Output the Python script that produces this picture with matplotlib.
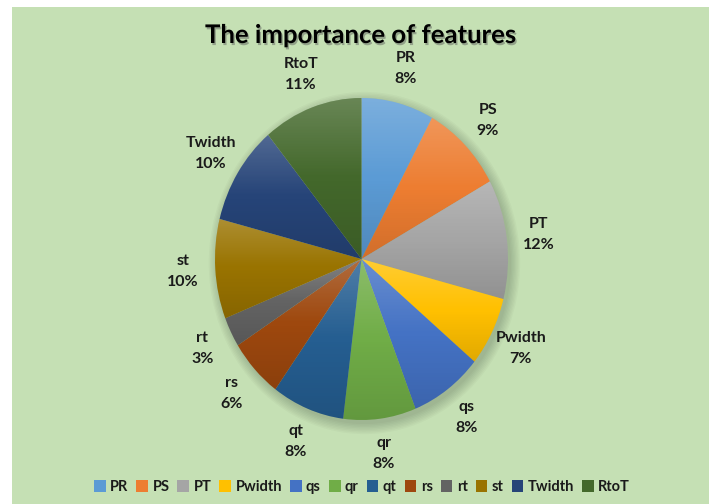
import numpy as np
import matplotlib
matplotlib.use("Agg")
import matplotlib.pyplot as plt
from matplotlib.patches import Rectangle, Ellipse
import matplotlib.patheffects as pe

plt.rcParams['font.family'] = ['Lato', 'DejaVu Sans']

# feature importances in percent, clockwise from 12 o'clock
features = ["PR", "PS", "PT", "Pwidth", "qs", "qr", "qt", "rs", "rt", "st", "Twidth", "RtoT"]
importance = [8, 9, 12, 7, 8, 8, 8, 6, 3, 10, 10, 11]
colors = ["#5B9BD5", "#ED7D31", "#A5A5A5", "#FFC000", "#4472C4", "#70AD47",
          "#255E91", "#9E480E", "#636363", "#997300", "#264478", "#43682B"]

W, H = 712, 504
fig = plt.figure(figsize=(W / 100, H / 100), dpi=100, facecolor="white")

# green chart area with a thin white margin left, top and right
fig.patches.append(Rectangle((12 / W, 0), 697 / W, 497 / H, transform=fig.transFigure,
                             facecolor="#C5E0B4", edgecolor="none", zorder=-10))

# pie is slightly taller than wide, so use separate x/y units
cx, cy, rx, ry = 361.5, 259, 146.5, 161
ax = fig.add_axes([0, 0, 1, 1])
ax.set_facecolor("none")
ax.axis("off")

# soft drop shadow, offset to the lower right
for k in range(8):
    ax.add_patch(Ellipse((0.02, -0.025), 2 * (1 + 0.009 * k), 2 * (1 + 0.009 * k),
                         facecolor="black", edgecolor="none", alpha=0.025, zorder=1))

wedges, texts = ax.pie(importance, labels=[f"{n}\n{v}%" for n, v in zip(features, importance)],
                       colors=colors, startangle=90, counterclock=False, radius=1,
                       labeldistance=1.22,
                       wedgeprops=dict(linewidth=0, zorder=2),
                       textprops=dict(fontsize=11.5, fontweight="bold", color="#1a1a1a",
                                      linespacing=1.65))
for t in texts:
    t.set_horizontalalignment("center")
    t.set_verticalalignment("center")

# light-to-dark vertical gradient on each slice
grad = np.zeros((64, 1, 4))
s = np.linspace(0, 1, 64)
grad[:, 0, :3] = np.where(s[:, None] < 0.5, 1.0, 0.0)
grad[:, 0, 3] = np.where(s < 0.5, 0.2 * (1 - 2 * s), 0.12 * (2 * s - 1))
for w in wedges:
    b = w.get_path().get_extents()
    im = ax.imshow(grad, extent=[b.x0, b.x1, b.y0, b.y1], origin="upper",
                   aspect="auto", interpolation="bilinear", zorder=3)
    im.set_clip_path(w)

ax.set_aspect("auto")
ax.set_xlim(-cx / rx, (W - cx) / rx)
ax.set_ylim(-(H - cy) / ry, cy / ry)

fig.text(361 / W, 1 - 35 / H, "The importance of features", ha="center", va="center",
         fontsize=18.5, fontweight="bold", color="black",
         path_effects=[pe.withSimplePatchShadow(offset=(1, -1.5), shadow_rgbFace="#555555",
                                                alpha=0.45)])

fig.legend(wedges, features, loc="center", bbox_to_anchor=(362 / W, 1 - 487 / H), ncol=12,
           frameon=False, handlelength=0.8, handleheight=0.8, handletextpad=0.3,
           columnspacing=0.55, prop=dict(size=10.5, weight="bold"), labelcolor="#1a1a1a")

fig.savefig("out.png", dpi=100, facecolor="white")
